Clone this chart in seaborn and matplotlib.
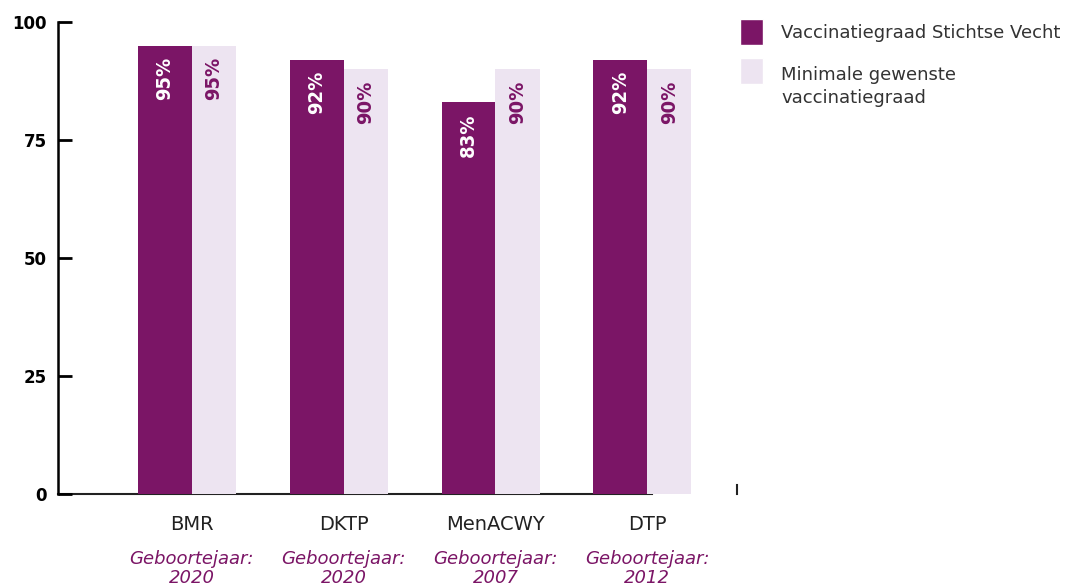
import pandas as pd
import matplotlib
matplotlib.use('Agg')
import matplotlib.pyplot as plt
from matplotlib.patches import Patch, Rectangle
from matplotlib.legend_handler import HandlerPatch
import seaborn as sns

# Data
categories = ['BMR', 'DKTP', 'MenACWY', 'DTP']
geboortejaar = ['2020', '2020', '2007', '2012']
stichtse_vecht = [95, 92, 83, 92]
minimaal = [95, 90, 90, 90]
series_names = ['Vaccinatiegraad Stichtse Vecht', 'Minimale gewenste\nvaccinatiegraad']

purple = '#7B1566'
light = '#EDE4F1'

df = pd.DataFrame({
    'vaccin': categories * 2,
    'waarde': stichtse_vecht + minimaal,
    'reeks': [series_names[0]] * len(categories) + [series_names[1]] * len(categories),
})

sns.set_style('white')
plt.rcParams['font.family'] = ['DejaVu Sans']

fig = plt.figure(figsize=(10.69, 5.88), dpi=100)
ax = fig.add_axes([58 / 1069, 1 - 494 / 588, (737 - 58) / 1069, (494 - 22) / 588])

sns.barplot(data=df, x='vaccin', y='waarde', hue='reeks', order=categories,
            hue_order=series_names, palette=[purple, light], width=0.71,
            saturation=1, errorbar=None, legend=False, linewidth=0, ax=ax)

# light bars are a bit narrower in the original
for p in ax.containers[1]:
    p.set_width(0.29)

# value labels inside the top of each bar
for cont, col in zip(ax.containers, ['white', purple]):
    for p in cont:
        h = p.get_height()
        ax.annotate(f'{h:.0f}%', (p.get_x() + p.get_width() / 2, h),
                    xytext=(0, -8), textcoords='offset points',
                    rotation=90, ha='center', va='top', color=col,
                    fontsize=14.5, fontweight='bold', fontstretch='condensed')

ax.set_xlim(-0.88, 3.59)
ax.set_ylim(0, 100)
ax.set_yticks([0, 25, 50, 75, 100])
ax.set_xlabel('')
ax.set_ylabel('')

ax.spines['top'].set_visible(False)
ax.spines['left'].set_linewidth(1.8)
ax.spines['left'].set_color('black')
ax.spines['bottom'].set_linewidth(1.5)
ax.spines['bottom'].set_color('#222222')
ax.spines['bottom'].set_bounds(-0.88, 3.03)
ax.spines['bottom'].set_zorder(0.5)
ax.spines['right'].set_linewidth(1.5)
ax.spines['right'].set_color('#222222')
ax.spines['right'].set_bounds(0, 2)

ax.tick_params(axis='y', left=True, direction='in', length=10, width=2,
               color='black', pad=8, labelsize=12, labelcolor='black')
for lbl in ax.get_yticklabels():
    lbl.set_fontweight('bold')
ax.tick_params(axis='x', length=0, pad=15, labelsize=14, labelcolor='#222222')

# birth year under each category
for i, jaar in enumerate(geboortejaar):
    ax.text(i, -0.118, f'Geboortejaar:\n{jaar}', transform=ax.get_xaxis_transform(),
            ha='center', va='top', fontsize=13, fontstyle='italic', color=purple,
            linespacing=1.12)


# second legend square sits next to the first line of its two-line label
def top_square(legend, orig_handle, xdescent, ydescent, width, height, fontsize):
    return Rectangle((-xdescent, -ydescent + 12), width, height)


handles = [Patch(facecolor=purple), Patch(facecolor=light)]
leg = fig.legend(handles, series_names, loc='upper left',
                 bbox_to_anchor=(724 / 1069, 1 - 3 / 588), frameon=False,
                 fontsize=13, labelcolor='#333333', handlelength=1.28, handleheight=1.8,
                 handletextpad=1.0, labelspacing=1.2,
                 handler_map={handles[1]: HandlerPatch(patch_func=top_square)})
for t in leg.get_texts():
    t.set_linespacing(1.3)

fig.savefig('out.png', dpi=100)
